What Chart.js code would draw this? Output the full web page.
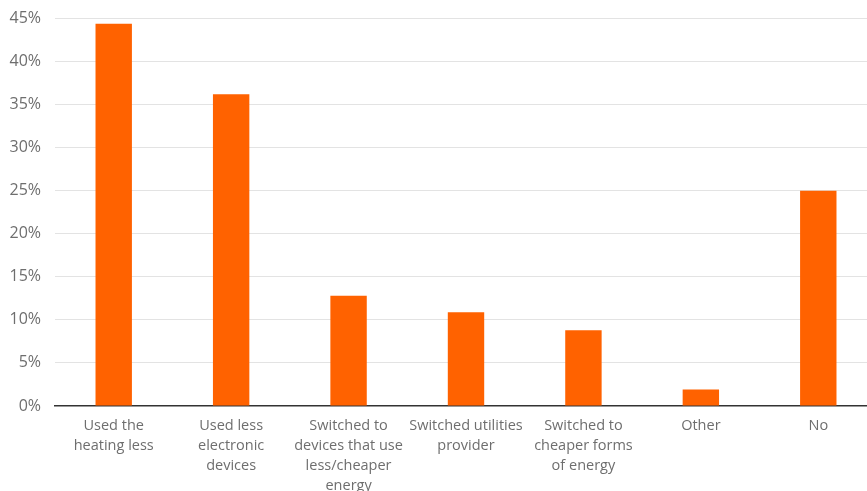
<!DOCTYPE html>
<html>
<head>
<meta charset="utf-8">
<script src="https://cdn.jsdelivr.net/npm/chart.js@4/dist/chart.umd.min.js"></script>
<style>
	html, body { margin: 0; padding: 0; background: #fff; overflow: hidden; }
	#wrap { position: relative; top: -5px; width: 877px; height: 511px; }
</style>
</head>
<body>
<div id="wrap"><canvas id="energyChart"></canvas></div>
<script>
// Data
const categories = [
	['Used the', 'heating less'],
	['Used less', 'electronic', 'devices'],
	['Switched to', 'devices that use', 'less/cheaper', 'energy'],
	['Switched utilities', 'provider'],
	['Switched to', 'cheaper forms', 'of energy'],
	['Other'],
	['No']
];
const shares = [44.4, 36.2, 12.8, 10.9, 8.8, 1.9, 25.0];
const yTicks = [0, 5, 10, 15, 20, 25, 30, 35, 40, 45];

const ORANGE = '#FF6200';
const TEXT = '#6e6e6e';
const FONT = "'Open Sans', 'Noto Sans', sans-serif";

let context = document.getElementById('energyChart');
let chart = new Chart(context, {
	type: 'bar',
	data: {
		labels: categories,
		datasets: [{
			data: shares,
			backgroundColor: ORANGE,
			borderWidth: 0,
			barPercentage: 0.31,
			categoryPercentage: 1
		}]
	},
	options: {
		responsive: true,
		maintainAspectRatio: false,
		animation: false,
		layout: { padding: { top: 6, left: 0, right: 0, bottom: 0 } },
		plugins: { legend: { display: false }, tooltip: { enabled: false } },
		scales: {
			x: {
				grid: { display: false, drawTicks: false },
				border: { display: true, color: '#333', width: 1.5 },
				ticks: {
					color: TEXT,
					font: { family: FONT, size: 14.5, lineHeight: 1.38 },
					padding: 10,
					maxRotation: 0,
					autoSkip: false
				}
			},
			y: {
				min: 0,
				max: 45,
				afterBuildTicks: axis => { axis.ticks = yTicks.map(v => ({ value: v })); },
				afterFit: axis => { axis.width = 55; }, // HACK: pin the chart area's left edge
				grid: { color: '#e3e3e3', lineWidth: 1, drawTicks: false },
				border: { display: false },
				ticks: {
					color: TEXT,
					font: { family: FONT, size: 16 },
					padding: 14,
					callback: v => v + '%'
				}
			}
		}
	}
});
</script>
</body>
</html>
